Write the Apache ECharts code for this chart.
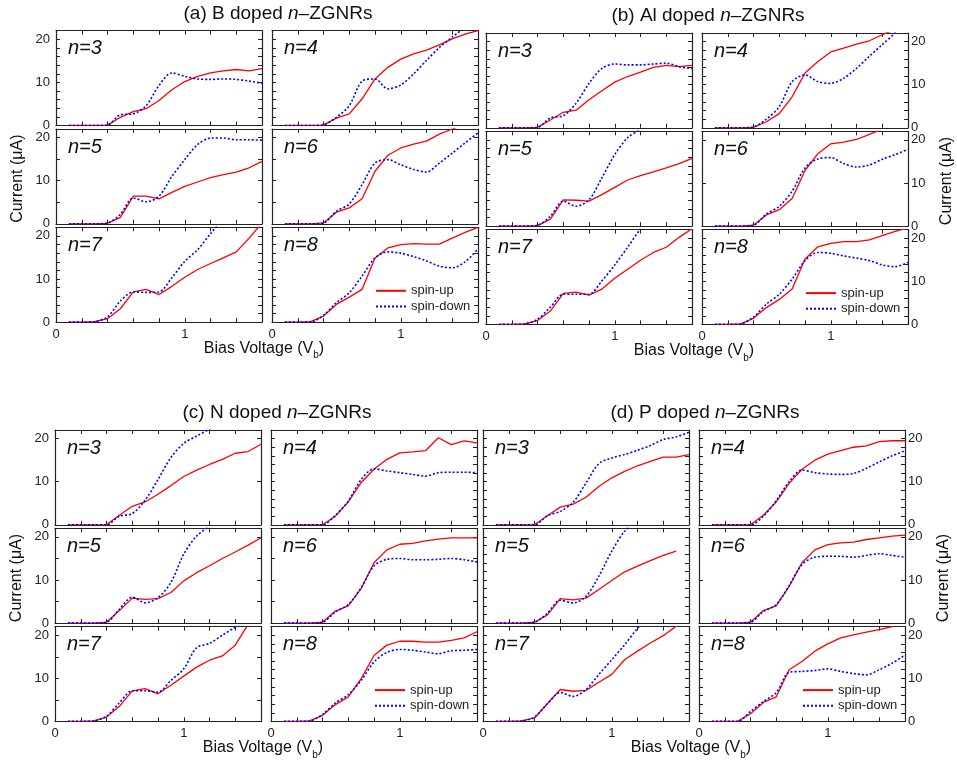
<!DOCTYPE html>
<html>
<head>
<meta charset="UTF-8">
<title>index</title>
<script src="https://cdn.jsdelivr.net/npm/echarts@6/dist/echarts.min.js"></script>
<style>
  html, body { margin: 0; padding: 0; background: #fff; }
  #main { width: 957px; height: 762px; }
</style>
</head>
<body>
<div id="main"></div>
<script>
// bias voltage samples (V)
const xs = [0.1,0.2,0.3,0.4,0.5,0.6,0.7,0.8,0.9,1.0,1.1,1.2,1.3,1.4,1.5,1.6]
const nLabels = ['n=3','n=4','n=5','n=6','n=7','n=8']

// current (uA), one row per n = 3..8
const B_up = [
  [0,0,0,0.1,1.9,3.2,3.9,5.8,8.3,10.2,11.4,12.2,12.7,13.0,12.7,13.2],
  [0,0,0,0.1,1.7,2.7,6.2,10.8,13.5,15.4,16.6,17.5,18.7,20.1,21.2,22.0],
  [0,0,0,0.1,1.5,6.4,6.4,5.8,7.3,8.7,9.7,10.7,11.4,12.0,13.0,14.5],
  [0,0,0,0.2,2.7,3.7,5.8,12.2,15.9,17.6,18.5,19.2,20.8,22.0,23,24],
  [0,0,0.1,0.8,3.1,7.0,7.6,6.4,8.3,10.4,12.2,13.6,14.9,16.3,19.5,23],
  [0,0,0.1,1.4,4.1,5.8,7.6,14.9,17.2,18.0,18.2,18.1,18.1,19.5,20.8,22.0]
]
const B_down = [
  [0,0,0,0.1,2.5,2.7,4.6,9.3,12.2,11.4,10.8,10.7,10.8,10.7,10.3,9.8],
  [0,0,0,0.2,1.9,4.6,10.3,10.8,8.5,9.4,12.0,15.1,18.1,20.5,22.8,25],
  [0,0,0,0.2,2.2,6.0,5.1,6.4,11.0,14.9,18.4,19.9,19.9,19.5,19.5,19.4],
  [0,0,0,0.2,2.9,4.6,9.1,14.1,14.9,13.7,12.6,12.0,14.1,16.4,18.8,21.1],
  [0,0,0.1,1.2,4.9,7.0,6.9,7.0,10.3,14.1,16.8,20.5,24,27,30,33],
  [0,0,0,1.6,4.5,6.8,10.7,14.9,16.3,16.0,15.2,14.2,13.0,12.6,14.0,17.0]
]
const Al_up = [
  [0,0,0,0.1,1.8,3.6,4.1,6.5,8.6,10.6,11.9,12.9,14.0,14.5,14.2,14.5],
  [0,0,0,0.1,1.4,3.3,7.2,12.7,15.4,17.6,18.5,19.4,20.2,21.6,22.8,24],
  [0,0,0,0.1,1.6,6.1,6.0,5.8,7.3,9.0,10.7,11.7,12.6,13.5,14.5,15.7],
  [0,0,0,0.2,2.6,3.8,6.4,12.9,16.8,19.1,19.5,20.1,21.3,22.5,24,25],
  [0,0,0.1,0.9,3.1,7.2,7.5,6.8,8.2,10.7,12.8,14.9,16.7,17.9,20.2,22.2],
  [0,0,0.1,1.4,3.9,5.8,8.2,15.2,18.0,18.8,19.2,19.2,19.6,20.6,21.6,22.4]
]
const Al_down = [
  [0,0,0,0.1,2.3,2.8,5.7,10.3,13.8,14.8,14.6,14.6,14.8,15.0,14.2,13.7],
  [0,0,0,0.2,2.0,4.9,10.7,12.3,10.7,10.3,11.5,13.8,16.6,19.3,22.0,25],
  [0,0,0,0.2,2.3,5.8,4.6,6.1,11.2,16.6,20.5,22.5,25,28,31,34],
  [0,0,0,0.2,2.8,4.6,8.1,13.5,15.6,15.9,14.5,13.7,14.2,15.5,16.6,17.8],
  [0,0,0.1,1.2,4.0,7.0,7.0,7.0,10.1,13.8,17.9,22.2,26,30,34,38],
  [0,0,0.1,1.7,4.7,7.0,10.5,14.8,16.7,16.5,15.9,15.4,14.8,13.8,13.4,14.4]
]
const N_up = [
  [0,0,0,0,2.2,4.3,5.3,7.1,9.1,11.2,12.7,14.0,15.2,16.6,17.0,18.7],
  [0,0,0,0,2.0,5.3,9.8,12.9,15.2,16.7,16.9,17.2,20.2,18.6,19.5,19.0],
  [0,0,0,0.2,2.9,5.8,5.5,5.7,7.1,9.8,11.7,13.3,15.0,16.5,18.1,19.8],
  [0,0,0,0.2,2.8,4.0,8.0,14.0,17.0,18.3,18.5,19.1,19.5,19.8,19.8,19.8],
  [0,0,0.1,1.0,3.5,7.1,7.6,6.4,8.4,10.5,12.6,14.2,15.2,17.7,22.5,27],
  [0,0,0.1,1.4,3.9,5.7,9.9,15.3,17.7,18.6,18.6,18.4,18.4,18.8,19.4,20.8]
]
const N_down = [
  [0,0,0,0,2.0,2.6,5.7,10.5,15.6,18.9,20.6,22.2,24,26,28,30],
  [0,0,0,0,2.2,5.5,10.5,13.0,12.5,12.1,11.7,11.3,12.1,12.2,12.2,12.1],
  [0,0,0,0.2,3.2,6.0,4.7,5.9,9.4,16.0,20.2,22.5,25,28,31,34],
  [0,0,0,0.2,2.6,4.3,8.2,13.3,14.8,15.0,14.7,14.7,14.8,15.0,14.7,14.2],
  [0,0,0.1,1.2,4.3,7.1,7.1,6.8,9.5,12.2,17.1,18.1,20.0,21.8,23,24],
  [0,0,0.1,1.6,4.3,6.2,9.5,13.8,16.0,16.7,16.5,16.1,15.7,16.4,16.5,16.7]
]
const P_up = [
  [0,0,0,0,2.1,4.1,4.8,6.4,8.9,10.9,12.4,13.7,14.7,15.7,15.7,16.3],
  [0,0,0,0,2.2,5.3,9.6,12.9,15.0,16.4,17.2,18.0,18.3,19.3,19.5,19.5],
  [0,0,0,0.2,1.9,5.7,5.4,5.8,7.8,9.9,11.9,13.2,14.5,15.7,16.7,null],
  [0,0,0,0.2,2.9,4.0,8.5,14.0,17.0,18.2,18.6,18.8,19.4,19.8,20.2,20.4],
  [0,0,0.1,0.8,4.1,7.4,7.0,7.2,9.1,10.9,14.3,16.3,18.2,19.9,22.1,24],
  [0,0,0,1.8,4.4,5.7,12.0,13.9,16.3,18.0,19.4,20.1,20.7,21.3,22.0,23]
]
const P_down = [
  [0,0,0,0,2.1,3.1,5.2,9.7,14.2,15.5,16.3,17.3,18.4,19.8,20.4,21.5],
  [0,0,0,0,2.0,5.6,10.0,12.7,12.1,11.8,11.7,11.9,13.1,14.6,16.0,17.2],
  [0,0,0,0.2,2.3,5.3,4.7,6.2,10.9,16.7,21.3,24,27,30,33,36],
  [0,0,0,0.2,2.7,4.3,8.7,13.6,15.3,15.5,15.5,15.3,15.7,16.1,15.7,15.3],
  [0,0,0.1,1.0,4.1,6.7,5.8,7.4,10.9,14.3,17.8,21.6,25,28,31,34],
  [0,0,0,2.3,4.6,6.7,11.4,11.6,11.8,12.2,11.6,11.1,10.8,12.0,13.5,15.4]
]

const FONT = 'Liberation Sans, Arial, sans-serif'
const INK = '#222'
const RED = '#ff0000'
const BLUE = '#0000ff'

// figure blocks: top-left of first panel, which side carries the y labels
const figs = [
  {tag: '(a) B doped ',  up: B_up,  down: B_down,  x: 56,  y: 30.7, side: 'left',  steps: [2,2,5,5,2,2]},
  {tag: '(b) Al doped ', up: Al_up, down: Al_down, x: 486, y: 33,   side: 'right', steps: [2,2,2,10,2,2]},
  {tag: '(c) N doped ',  up: N_up,  down: N_down,  x: 55,  y: 430,  side: 'left',  steps: [10,2,5,5,5,2]},
  {tag: '(d) P doped ',  up: P_up,  down: P_down,  x: 483, y: 430,  side: 'right', steps: [2,2,2,10,2,2]}
]
const W = 206, H = 94.8, COL = 216, ROW = 98.3

let grid = [], xAxis = [], yAxis = [], series = [], legend = [], graphic = []

function pts(arr) {
  let out = []
  for (let i = 0; i < xs.length; i++) {
    if (arr[i] !== null) out.push([xs[i], arr[i]])
  }
  return out
}

const lineCfg = {onZero: false, lineStyle: {color: INK, width: 1.2}}
const tickCfg = {inside: true, length: 4, lineStyle: {color: INK, width: 1}}
const lblCfg = {fontSize: 13, color: INK, fontFamily: FONT}

figs.forEach(f => {
  for (let p = 0; p < 6; p++) {
    const col = p % 2, row = Math.floor(p / 2)
    const left = f.x + col * COL, top = f.y + row * ROW
    const g = grid.length
    grid.push({left: left, top: top, width: W, height: H, outerBoundsMode: 'none'})

    const xb = {type: 'value', gridIndex: g, min: 0, max: 1.6, interval: 0.2,
      axisLine: lineCfg, axisTick: tickCfg, splitLine: {show: false}}
    xAxis.push(Object.assign({}, xb, {position: 'bottom', axisLabel: Object.assign({
      show: row === 2, margin: 6,
      formatter: v => Math.abs(v - Math.round(v)) < 1e-6 ? String(Math.round(v)) : ''
    }, lblCfg)}))
    xAxis.push(Object.assign({}, xb, {position: 'top', axisLabel: {show: false}}))

    const yb = {type: 'value', gridIndex: g, min: 0, max: 22, interval: f.steps[p],
      axisLine: lineCfg, axisTick: tickCfg, splitLine: {show: false}}
    const yfmt = v => (Math.abs(v % 10) < 1e-6 ? String(v) : '')
    yAxis.push(Object.assign({}, yb, {position: 'left', axisLabel: Object.assign({
      show: f.side === 'left' && col === 0, margin: 6, formatter: yfmt}, lblCfg)}))
    yAxis.push(Object.assign({}, yb, {position: 'right', axisLabel: Object.assign({
      show: f.side === 'right' && col === 1, margin: 3, formatter: yfmt}, lblCfg)}))

    series.push({type: 'line', name: 'spin-up', xAxisIndex: 2 * g, yAxisIndex: 2 * g,
      data: pts(f.up[p]), symbol: 'none', clip: true, z: 3,
      lineStyle: {color: RED, width: 1.3}, itemStyle: {color: RED}})
    series.push({type: 'line', name: 'spin-down', xAxisIndex: 2 * g, yAxisIndex: 2 * g,
      data: pts(f.down[p]), symbol: 'none', clip: true, smooth: 0.3, z: 4,
      lineStyle: {color: BLUE, width: 1.6, type: [2, 2]}, itemStyle: {color: BLUE}})

    graphic.push({type: 'text', x: left + 12, y: top + 18, silent: true,
      style: {text: nLabels[p], fontSize: 20, fontStyle: 'italic', fontFamily: FONT, fill: '#111',
        align: 'left', verticalAlign: 'middle', textAlign: 'left', textVerticalAlign: 'middle'}})

    if (p === 5) {
      // symbols hidden, only the line sample stays
      legend.push({data: ['spin-up', 'spin-down'], orient: 'vertical', left: left + 103, top: top + 57,
        padding: 0, itemWidth: 30, itemHeight: 14, itemGap: 2.7, selectedMode: false,
        itemStyle: {opacity: 0},
        textStyle: {fontSize: 13, color: INK, fontFamily: FONT}})
    }
  }

  // block title
  graphic.push({type: 'text', x: f.x + 222, y: f.y - 17, silent: true,
    style: {text: '{r|' + f.tag + '}{i|n}{r|–ZGNRs}', align: 'center', verticalAlign: 'middle',
      textAlign: 'center', textVerticalAlign: 'middle', fill: '#111',
      rich: {r: {fontSize: 19, fontFamily: FONT, color: '#111'},
             i: {fontSize: 19, fontFamily: FONT, fontStyle: 'italic', color: '#111'}}}})
  // x axis title
  graphic.push({type: 'text', x: f.x + 208, y: f.y + 318, silent: true,
    style: {text: '{r|Bias Voltage (V}{s|b}{r|)}', align: 'center', verticalAlign: 'middle',
      textAlign: 'center', textVerticalAlign: 'middle', fill: '#111',
      rich: {r: {fontSize: 16, fontFamily: FONT, lineHeight: 24, color: '#111'},
             s: {fontSize: 10, fontFamily: FONT, lineHeight: 10, verticalAlign: 'bottom', color: '#111'}}}})
  // y axis title
  graphic.push({type: 'text', x: f.side === 'left' ? f.x - 38 : f.x + 461, y: f.y + 148,
    rotation: Math.PI / 2, silent: true,
    style: {text: 'Current (μA)', fontSize: 16, fontFamily: FONT, fill: '#111',
      align: 'center', verticalAlign: 'middle', textAlign: 'center', textVerticalAlign: 'middle'}})
})

const chart = echarts.init(document.getElementById('main'), null, {renderer: 'canvas'})
chart.setOption({
  animation: false,
  backgroundColor: '#fff',
  grid: grid,
  xAxis: xAxis,
  yAxis: yAxis,
  legend: legend,
  series: series,
  graphic: graphic
})
</script>
</body>
</html>
